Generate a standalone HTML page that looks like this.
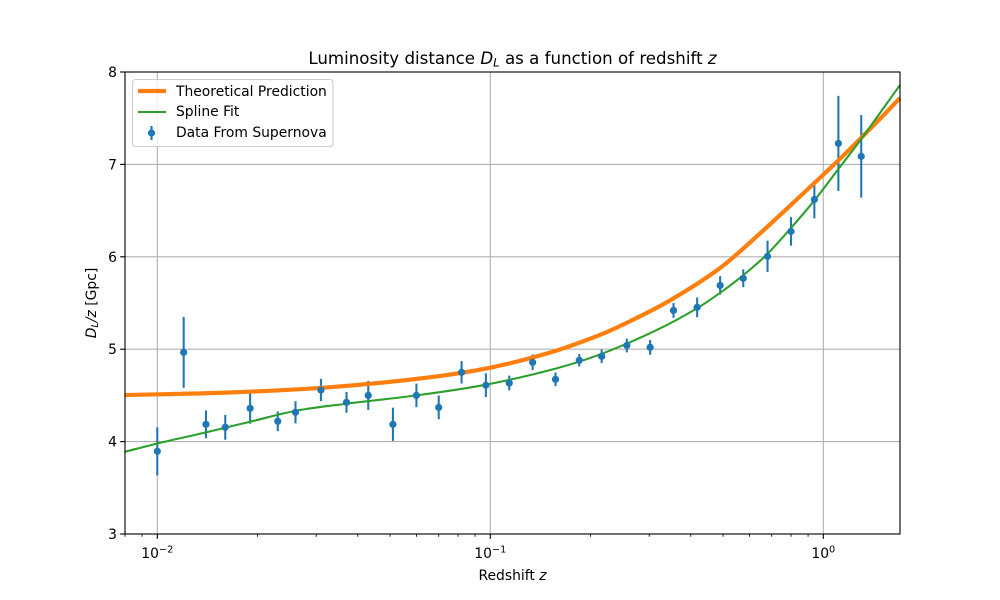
<!DOCTYPE html>
<html lang="en">
<head>
<meta charset="utf-8">
<title>Luminosity distance chart</title>
<style>
html,body{margin:0;padding:0;background:#fff;}
svg{display:block;}
text{font-family:"DejaVu Sans","Liberation Sans",sans-serif;fill:#000;}
.it{font-style:italic;}
</style>
</head>
<body>
<svg id="chart" xmlns="http://www.w3.org/2000/svg" width="1000" height="600" viewBox="0 0 1000 600">
  <g id="grid"></g>
  <g id="bars"></g>
  <path id="theory" fill="none" stroke="#ff7f0e" stroke-width="4.17" stroke-linejoin="round"/>
  <path id="spline" fill="none" stroke="#2ca02c" stroke-width="2.08" stroke-linejoin="round"/>
  <g id="points"></g>
  <g id="ticks"></g>
  <rect x="125" y="72" width="775" height="462" fill="none" stroke="#000" stroke-width="1.11"/>
  <text x="512.5" y="64" font-size="16.67" text-anchor="middle" xml:space="preserve">Luminosity distance <tspan class="it">D</tspan><tspan class="it" font-size="11.67" dy="2.5">L</tspan><tspan dy="-2.5"> as a function of redshift </tspan><tspan class="it">z</tspan></text>
  <text x="512.5" y="580" font-size="13.89" text-anchor="middle" xml:space="preserve">Redshift <tspan class="it">z</tspan></text>
  <text transform="translate(96,303) rotate(-90)" font-size="13.89" text-anchor="middle" xml:space="preserve"><tspan class="it">D</tspan><tspan class="it" font-size="9.72" dy="2">L</tspan><tspan class="it" dy="-2">/z</tspan> [Gpc]</text>
  <g>
    <rect x="132.5" y="79.5" width="200.5" height="67" rx="3" ry="3" fill="#fff" fill-opacity="0.8" stroke="#cccccc" stroke-width="1.11"/>
    <line x1="138" x2="166" y1="91" y2="91" stroke="#ff7f0e" stroke-width="4.17"/>
    <text x="176" y="96" font-size="13.89">Theoretical Prediction</text>
    <line x1="138" x2="166" y1="112" y2="112" stroke="#2ca02c" stroke-width="2.08"/>
    <text x="176" y="116" font-size="13.89">Spline Fit</text>
    <line x1="151.5" x2="151.5" y1="126" y2="140" stroke="#1f77b4" stroke-width="2.08"/>
    <circle cx="151.5" cy="133" r="3.6" fill="#1f77b4"/>
    <text x="176" y="137" font-size="13.89">Data From Supernova</text>
  </g>
</svg>
<script>
const dataZ = [0.01,0.012,0.014,0.016,0.019,0.023,0.026,0.031,0.037,0.043,0.051,0.06,0.07,0.082,0.097,0.114,0.134,0.157,0.185,0.216,0.257,0.302,0.355,0.418,0.49,0.575,0.68,0.8,0.94,1.11,1.3];
const dataD = [3.895,4.966,4.187,4.155,4.36,4.22,4.317,4.558,4.425,4.50,4.187,4.50,4.37,4.75,4.61,4.634,4.858,4.674,4.88,4.923,5.04,5.02,5.42,5.453,5.69,5.767,6.005,6.275,6.62,7.227,7.087];
const dataErr = [0.26,0.383,0.15,0.135,0.166,0.107,0.12,0.12,0.113,0.157,0.18,0.127,0.128,0.122,0.128,0.08,0.085,0.074,0.067,0.074,0.074,0.08,0.08,0.107,0.10,0.096,0.17,0.155,0.204,0.514,0.447];

const theoryZ = [0.008,0.016,0.032,0.064,0.1,0.15,0.2,0.245,0.346,0.49,0.645,0.851,1.122,1.48,1.7];
const theoryD = [4.504,4.53,4.585,4.69,4.80,4.96,5.115,5.25,5.527,5.879,6.252,6.653,7.06,7.493,7.719];

const splineZ = [0.008,0.01,0.014,0.019,0.0262,0.037,0.06,0.097,0.157,0.216,0.3165,0.418,0.49,0.57,0.67,0.79,0.94,1.11,1.3,1.7];
const splineD = [3.89,3.98,4.10,4.215,4.335,4.41,4.50,4.616,4.79,4.95,5.208,5.443,5.61,5.79,6.01,6.29,6.61,6.95,7.275,7.86];

const xMajorTicks = [0.01,0.1,1];
const xMajorExponents = ['\u22122','\u22121','0'];
const xMinorMultiples = [2,3,4,5,6,7,8,9];
const xMinorDecades = [0.001,0.01,0.1,1];
const yTicks = [3,4,5,6,7,8];

const NS = 'http://www.w3.org/2000/svg';
const left = 125, right = 900, top_ = 72, bottom = 534;
const xMinLog = -2.09700, pxPerDecade = 333;
const yMin = 3, yMax = 8;
function xScale(z){ return left + (Math.log10(z) - xMinLog) * pxPerDecade; }
function yScale(d){ return bottom - (d - yMin) / (yMax - yMin) * (bottom - top_); }

function make(tag, attrs, parent){
  const el = document.createElementNS(NS, tag);
  for (const k in attrs) el.setAttribute(k, attrs[k]);
  parent.appendChild(el);
  return el;
}

function smoothPath(zs, ds){
  const p = zs.map((z,i) => [xScale(z), yScale(ds[i])]);
  const n = p.length;
  const m = p.map((pt,i) => {
    const a = p[Math.max(i-1,0)], b = p[Math.min(i+1,n-1)];
    return (b[1]-a[1]) / (b[0]-a[0]);
  });
  let s = 'M' + p[0][0].toFixed(2) + ' ' + p[0][1].toFixed(2);
  for (let i = 0; i < n - 1; i++){
    const h = (p[i+1][0] - p[i][0]) / 3;
    const vals = [p[i][0]+h, p[i][1]+m[i]*h, p[i+1][0]-h, p[i+1][1]-m[i+1]*h, p[i+1][0], p[i+1][1]];
    s += 'C' + vals.map(v => v.toFixed(2)).join(' ');
  }
  return s;
}

const gridG = document.getElementById('grid');
const ticksG = document.getElementById('ticks');
const barsG = document.getElementById('bars');
const pointsG = document.getElementById('points');

xMajorTicks.forEach((t,i) => {
  const x = xScale(t);
  const g = make('line', {x1:x, x2:x, y1:top_, y2:bottom, stroke:'#b0b0b0', 'stroke-width':1.11}, gridG);
  
  
  const m = make('line', {x1:x, x2:x, y1:bottom, y2:bottom+4.86, stroke:'#000', 'stroke-width':1.11}, ticksG);
  
  
  const label = make('text', {x:x, y:558, 'font-size':13.89, 'text-anchor':'middle'}, ticksG);
  
  
  const base = make('tspan', {}, label);
  base.textContent = '10';
  const sup = make('tspan', {'font-size':9.72, dy:-5.5}, label);
  sup.textContent = xMajorExponents[i];
});

xMinorMultiples.forEach(k => {
  xMinorDecades.forEach(dec => {
    const z = k * dec;
    const x = xScale(z);
    if (x < left || x > right) return;
    const m = make('line', {x1:x, x2:x, y1:bottom, y2:bottom+2.78, stroke:'#000', 'stroke-width':0.83}, ticksG);
    
    
  });
});

yTicks.forEach(t => {
  const y = yScale(t);
  if (t > yMin && t < yMax){
    const g = make('line', {x1:left, x2:right, y1:y, y2:y, stroke:'#b0b0b0', 'stroke-width':1.11}, gridG);
    
    
  }
  const m = make('line', {x1:left-4.86, x2:left, y1:y, y2:y, stroke:'#000', 'stroke-width':1.11}, ticksG);
  
  
  const label = make('text', {x:left-8, y:y+5, 'font-size':13.89, 'text-anchor':'end'}, ticksG);
  
  
  label.textContent = String(t);
});

document.getElementById('theory').setAttribute('d', smoothPath(theoryZ, theoryD));
document.getElementById('spline').setAttribute('d', smoothPath(splineZ, splineD));

dataZ.forEach((z,i) => {
  const x = xScale(z);
  const b = make('line', {x1:x, x2:x, y1:yScale(dataD[i]+dataErr[i]), y2:yScale(dataD[i]-dataErr[i]), stroke:'#1f77b4', 'stroke-width':2.08}, barsG);
  
  
  const c = make('circle', {cx:x, cy:yScale(dataD[i]), r:3.6, fill:'#1f77b4'}, pointsG);
  
  
});
</script>
</body>
</html>
